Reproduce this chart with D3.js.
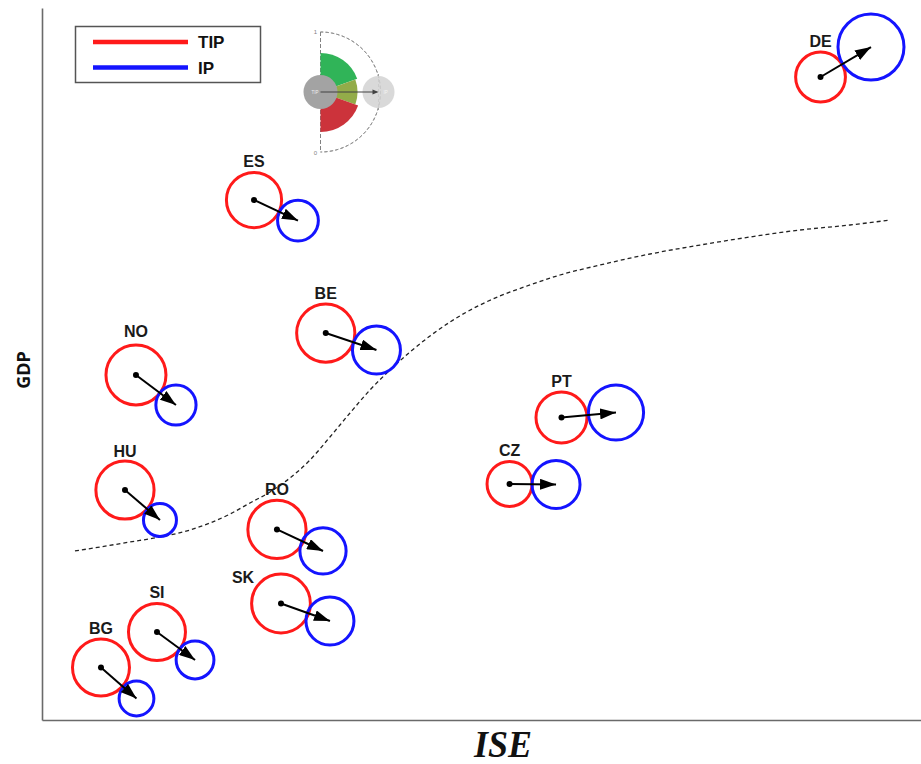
<!DOCTYPE html>
<html>
<head>
<meta charset="utf-8">
<script src="https://cdn.jsdelivr.net/npm/d3@7"></script>
<style>
  html, body { margin: 0; padding: 0; background: #fff; }
  svg { display: block; }
</style>
</head>
<body>
<svg id="chart" width="921" height="764"></svg>
<script>
// ---------------- DATA ----------------
const countries = ["DE", "ES", "BE", "NO", "HU", "RO", "SK", "SI", "BG", "PT", "CZ"];
// TIP position (ISE, GDP) and size
const tipISE  = [88.57, 24.12, 32.28, 10.69,  9.44, 26.73, 27.19, 13.08,  6.71, 59.10, 53.19];
const tipGDP  = [90.31, 73.03, 54.35, 48.46, 32.30, 26.76, 16.36, 12.36,  7.37, 42.49, 33.15];
const tipSize = [ 8.3,   9.2,   9.7,  10.0,   9.7,   9.7,   9.8,   9.5,   9.5,   8.5,   7.5 ];
// IP position (ISE, GDP) and size
const ipISE   = [94.31, 29.12, 38.05, 15.24, 13.42, 31.97, 32.76, 17.41, 10.75, 65.30, 58.48];
const ipGDP   = [94.52, 70.15, 51.97, 44.24, 28.09, 23.74, 13.90,  8.43,  3.02, 43.19, 33.08];
const ipSize  = [11.0,   6.8,   8.0,   6.7,   5.5,   7.7,   8.0,   6.3,   5.8,   9.2,   8.0 ];
// dashed threshold curve
const curveISE = [3.75, 6.60, 10.01, 13.42, 16.84, 19.11, 21.39, 23.66, 25.94, 28.21, 30.49, 32.76, 35.04, 37.31, 39.59, 41.87, 44.14, 46.42, 49.83, 52.10, 55.52, 58.93, 63.48, 69.17, 74.86, 80.55, 86.23, 91.92, 96.47];
const curveGDP = [23.74, 24.30, 25.00, 25.70, 26.69, 27.67, 28.93, 30.48, 32.02, 33.99, 36.52, 39.75, 43.12, 46.35, 49.16, 51.69, 53.93, 55.90, 58.29, 59.55, 61.10, 62.50, 63.90, 65.45, 66.71, 67.84, 68.82, 69.52, 70.22];
const legendItems = ["TIP", "IP"];
const xTitle = "ISE";
const yTitle = "GDP";

// ---------------- LAYOUT ----------------
const W = 921, H = 764;
const margin = { left: 42, top: 8, right: 0, bottom: 44 };
const svg = d3.select("#chart");

const x = d3.scaleLinear().domain([0, 100]).range([margin.left, W - margin.right]);
const y = d3.scaleLinear().domain([0, 100]).range([H - margin.bottom, margin.top]);
const r = d3.scaleLinear().domain([0, 10]).range([0, 30]);

const RED = "#ff1a1a", BLUE = "#1414ff";

// axes (no ticks)
const gx = svg.append("g").attr("transform", `translate(0,${H - margin.bottom})`)
  .call(d3.axisBottom(x).tickValues([]).tickSizeOuter(0));
const gy = svg.append("g").attr("transform", `translate(${margin.left},0)`)
  .call(d3.axisLeft(y).tickValues([]).tickSizeOuter(0));
[gx, gy].forEach(g => g.select(".domain").attr("stroke", "#6a6a6a").attr("stroke-width", 1.6));

// axis titles
svg.append("text")
  .attr("x", 503).attr("y", 757)
  .attr("text-anchor", "middle")
  .attr("font-family", "'Liberation Serif', 'DejaVu Serif', serif")
  .attr("font-style", "italic").attr("font-weight", "bold")
  .attr("font-size", 38)
  .attr("textLength", 58).attr("lengthAdjust", "spacingAndGlyphs")
  .attr("fill", "#111")
  .text(xTitle);
svg.append("text")
  .attr("transform", "translate(30,370) rotate(-90)")
  .attr("text-anchor", "middle")
  .attr("font-family", "'Open Sans', 'Liberation Sans', Arial, sans-serif")
  .attr("font-weight", "bold").attr("font-size", 18)
  .attr("fill", "#111")
  .text(yTitle);

// dashed curve
const curvePts = curveISE.map((v, i) => [v, curveGDP[i]]);
svg.append("path")
  .datum(curvePts)
  .attr("fill", "none")
  .attr("stroke", "#222")
  .attr("stroke-width", 1.3)
  .attr("stroke-dasharray", "4,3")
  .attr("d", d3.line().x(d => x(d[0])).y(d => y(d[1])).curve(d3.curveMonotoneX));

// arrow marker
svg.append("defs").append("marker")
  .attr("id", "ah")
  .attr("markerUnits", "userSpaceOnUse")
  .attr("viewBox", "0 0 16 11")
  .attr("refX", 16).attr("refY", 5.5)
  .attr("markerWidth", 16).attr("markerHeight", 11)
  .attr("orient", "auto")
  .append("path").attr("d", "M0,0 L16,5.5 L0,11 Z").attr("fill", "#000");

// country glyphs
const data = countries.map((c, i) => ({
  c, tx: tipISE[i], ty: tipGDP[i], tr: tipSize[i],
  ix: ipISE[i], iy: ipGDP[i], ir: ipSize[i]
}));
const labelNudge = { SK: [-38, 14], NO: [0, -3], HU: [0, 1] };

const g = svg.append("g").selectAll("g").data(data).join("g");
g.append("circle")
  .attr("cx", d => x(d.tx)).attr("cy", d => y(d.ty)).attr("r", d => r(d.tr))
  .attr("fill", "none").attr("stroke", RED).attr("stroke-width", 3);
g.append("circle")
  .attr("cx", d => x(d.ix)).attr("cy", d => y(d.iy)).attr("r", d => r(d.ir))
  .attr("fill", "none").attr("stroke", BLUE).attr("stroke-width", 3);
g.append("line")
  .attr("x1", d => x(d.tx)).attr("y1", d => y(d.ty))
  .attr("x2", d => x(d.ix)).attr("y2", d => y(d.iy))
  .attr("stroke", "#000").attr("stroke-width", 2)
  .attr("marker-end", "url(#ah)");
g.append("circle")
  .attr("cx", d => x(d.tx)).attr("cy", d => y(d.ty)).attr("r", 3)
  .attr("fill", "#000");
g.append("text")
  .attr("x", d => x(d.tx) + (labelNudge[d.c] ? labelNudge[d.c][0] : 0))
  .attr("y", d => y(d.ty) - r(d.tr) - 5 + (labelNudge[d.c] ? labelNudge[d.c][1] : 0))
  .attr("text-anchor", "middle")
  .attr("font-family", "'Liberation Sans', Arial, sans-serif")
  .attr("font-weight", "bold").attr("font-size", 16)
  .attr("fill", "#1a1a1a")
  .text(d => d.c);

// legend
const lg = svg.append("g");
lg.append("rect").attr("x", 75.5).attr("y", 26.5).attr("width", 185).attr("height", 56)
  .attr("fill", "#fff").attr("stroke", "#555").attr("stroke-width", 1.5);
const legColors = [RED, BLUE];
legendItems.forEach((t, i) => {
  const yy = 42 + i * 25.5;
  lg.append("line").attr("x1", 93).attr("x2", 188).attr("y1", yy).attr("y2", yy)
    .attr("stroke", legColors[i]).attr("stroke-width", 4.5);
  lg.append("text").attr("x", 198).attr("y", yy + 6)
    .attr("font-family", "'Liberation Sans', Arial, sans-serif")
    .attr("font-weight", "bold").attr("font-size", 17).attr("fill", "#111")
    .text(t);
});

// inset gauge legend
const ins = svg.append("g").attr("transform", "translate(320.5,92)").attr("opacity", 0.92);
const arcR = 60;
ins.append("path")
  .attr("d", d3.arc()({ innerRadius: arcR, outerRadius: arcR, startAngle: 0, endAngle: Math.PI }))
  .attr("fill", "none").attr("stroke", "#888").attr("stroke-width", 1).attr("stroke-dasharray", "3,2.5");
ins.append("line").attr("x1", 0).attr("x2", 0).attr("y1", -arcR).attr("y2", arcR)
  .attr("stroke", "#777").attr("stroke-width", 1).attr("stroke-dasharray", "4,2");
ins.append("line").attr("x1", 58).attr("x2", 58).attr("y1", -18).attr("y2", 18)
  .attr("stroke", "#999").attr("stroke-width", 1).attr("stroke-dasharray", "3,2");
const sectors = [
  { a0: 0, a1: Math.PI * 0.39, c: "#1fae4a", ro: 39 },
  { a0: Math.PI * 0.39, a1: Math.PI * 0.61, c: "#8aa53a", ro: 37 },
  { a0: Math.PI * 0.61, a1: Math.PI, c: "#c8222b", ro: 40 }
];
sectors.forEach(s => {
  ins.append("path")
    .attr("d", d3.arc()({ innerRadius: 0, outerRadius: s.ro, startAngle: s.a0, endAngle: s.a1 }))
    .attr("fill", s.c);
});
ins.append("circle").attr("cx", 0).attr("cy", 0).attr("r", 17).attr("fill", "#9c9c9c");
ins.append("circle").attr("cx", 58).attr("cy", 0).attr("r", 16).attr("fill", "#cfcfcf").attr("opacity", 0.85);
ins.append("line").attr("x1", 0).attr("y1", 0).attr("x2", 56).attr("y2", 0)
  .attr("stroke", "#333").attr("stroke-width", 1);
ins.append("path").attr("d", "M58,0 L52,-2.5 L52,2.5 Z").attr("fill", "#333");
ins.append("text").attr("x", -9).attr("y", 1.5).attr("font-size", 4.5).attr("fill", "#eee")
  .attr("font-family", "'Liberation Sans', Arial, sans-serif").text("TIP");
ins.append("text").attr("x", 63).attr("y", 1.5).attr("font-size", 4.5).attr("fill", "#f5f5f5")
  .attr("font-family", "'Liberation Sans', Arial, sans-serif").text("IP");
ins.append("text").attr("x", -5).attr("y", -58).attr("font-size", 6).attr("fill", "#777")
  .attr("font-family", "'Liberation Sans', Arial, sans-serif").attr("text-anchor", "middle").text("1");
ins.append("text").attr("x", -5).attr("y", 63).attr("font-size", 6).attr("fill", "#777")
  .attr("font-family", "'Liberation Sans', Arial, sans-serif").attr("text-anchor", "middle").text("0");
</script>
</body>
</html>
